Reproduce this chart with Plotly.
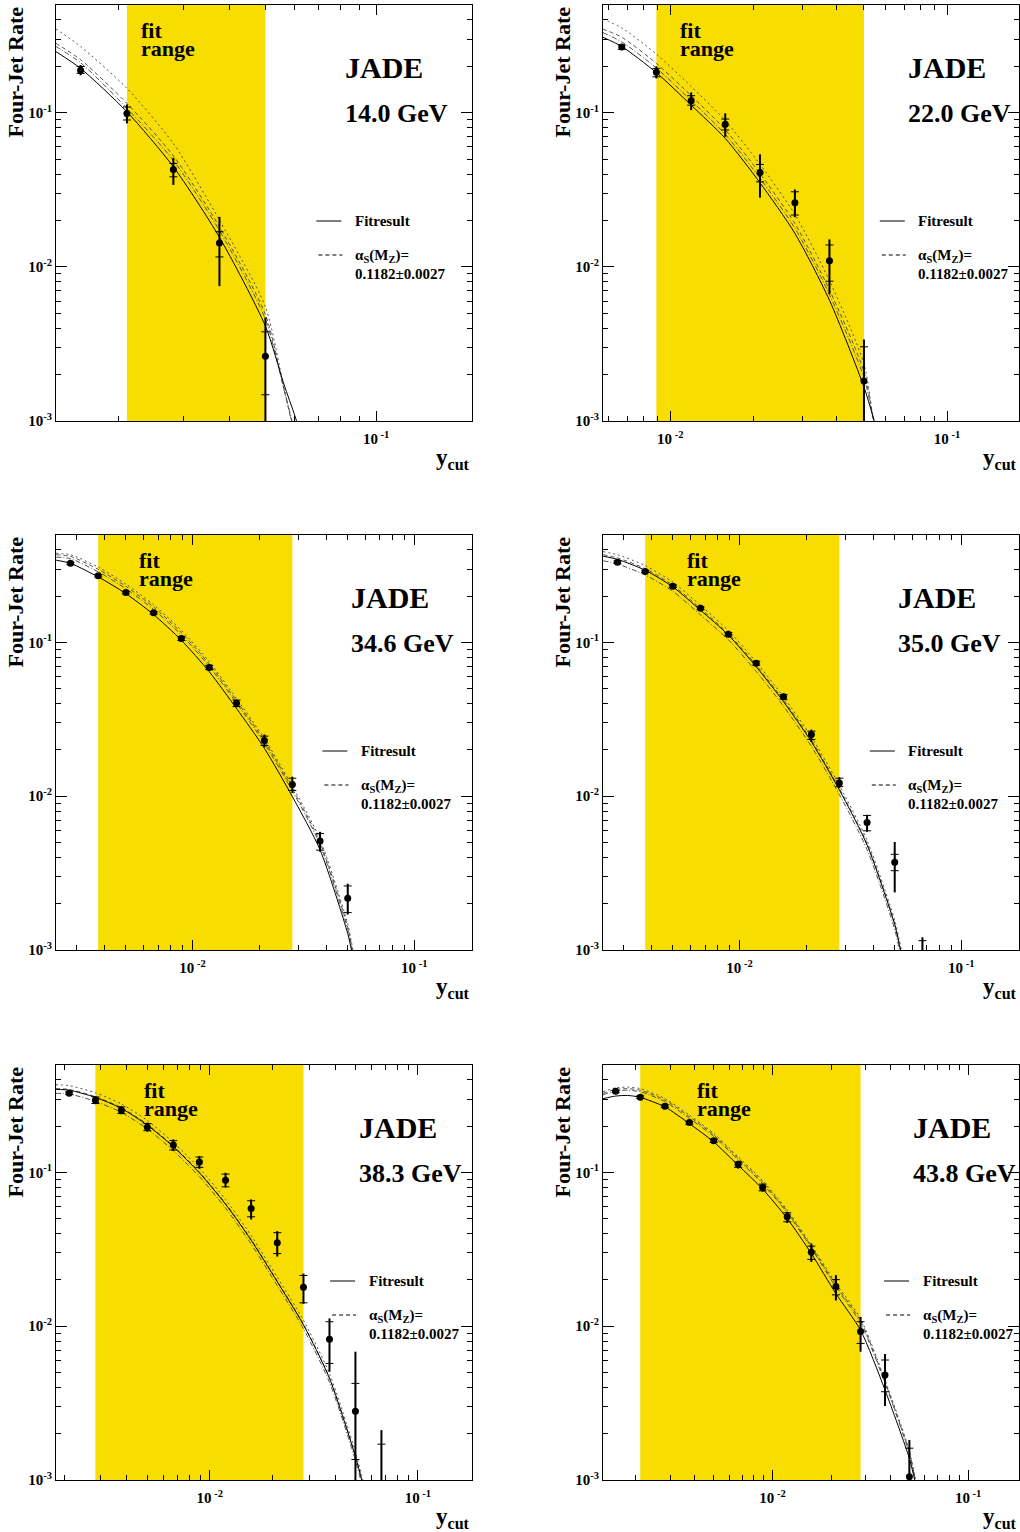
import plotly.graph_objects as go

# ------------------------------------------------------------------ data
energies = ["14.0 GeV", "22.0 GeV", "34.6 GeV", "35.0 GeV", "38.3 GeV", "43.8 GeV"]

# fit-range limits (y_cut)
fit_lo = [0.0211, 0.00891, 0.00376, 0.00376, 0.00282, 0.00211]
fit_hi = [0.0501, 0.0501, 0.0282, 0.0282, 0.0282, 0.0282]

# ---- 14.0 GeV
ycut_14 = [0.0158, 0.0211, 0.0282, 0.0376, 0.0501]
rate_14 = [0.189, 0.099, 0.0428, 0.0143, 0.00263]
stat_lo_14 = [0.180, 0.0897, 0.0384, 0.0116, 0.00148]
stat_hi_14 = [0.1995, 0.109, 0.0469, 0.0169, 0.00379]
tot_lo_14 = [0.175, 0.0853, 0.0340, 0.0075, 0.0004]
tot_hi_14 = [0.204, 0.1133, 0.0510, 0.0211, 0.0047]
xc_14 = [0.01355, 0.0158, 0.0211, 0.0282, 0.0376, 0.0501, 0.0562, 0.0603, 0.0646]
fit_14 = [0.249, 0.194, 0.1014, 0.0446, 0.01556, 0.00412, 0.00174, 0.00107, 0.00063]
as_hi_14 = [0.349, 0.269, 0.144, 0.0631, 0.0201, 0.0055, 0.00166, 0.00079, 0.0004]
as_mid_14 = [0.282, 0.221, 0.115, 0.0525, 0.0182, 0.0049, 0.00162, 0.00079, 0.0004]
as_lo_14 = [0.269, 0.211, 0.107, 0.049, 0.0172, 0.00457, 0.00162, 0.00083, 0.0004]

# ---- 22.0 GeV
ycut_22 = [0.00668, 0.00891, 0.0119, 0.0158, 0.0211, 0.0282, 0.0376, 0.0501]
rate_22 = [0.267, 0.183, 0.1197, 0.0841, 0.0410, 0.0261, 0.01094, 0.00182]
stat_lo_22 = [0.258, 0.171, 0.112, 0.0773, 0.0356, 0.0217, 0.00807, 0.0006]
stat_hi_22 = [0.275, 0.194, 0.129, 0.0910, 0.0462, 0.0307, 0.01387, 0.00303]
tot_lo_22 = [0.255, 0.167, 0.104, 0.0698, 0.0281, 0.0210, 0.00665, 0.0004]
tot_hi_22 = [0.278, 0.200, 0.1355, 0.0991, 0.0537, 0.0318, 0.01507, 0.00338]
xc_22 = [0.00571, 0.00668, 0.00891, 0.0119, 0.0158, 0.0211, 0.0282, 0.0376, 0.0501, 0.0546, 0.0575]
fit_22 = [0.309, 0.269, 0.182, 0.112, 0.0682, 0.0351, 0.0165, 0.00608, 0.00166, 0.0010, 0.00071]
as_hi_22 = [0.405, 0.355, 0.240, 0.148, 0.0891, 0.0462, 0.0219, 0.00813, 0.00234, 0.00089, 0.00045]
as_mid_22 = [0.349, 0.309, 0.209, 0.129, 0.0776, 0.0403, 0.0191, 0.00708, 0.00209, 0.00093, 0.0005]
as_lo_22 = [0.331, 0.288, 0.195, 0.120, 0.0724, 0.0376, 0.0178, 0.00661, 0.00191, 0.00095, 0.00056]

# ---- 34.6 GeV
ycut_34 = [0.00282, 0.00376, 0.00501, 0.00668, 0.00891, 0.0119, 0.0158, 0.0211, 0.0282, 0.0376, 0.0501]
rate_34 = [0.327, 0.272, 0.211, 0.156, 0.106, 0.0688, 0.0403, 0.0230, 0.0119, 0.00511, 0.00217]
stat_lo_34 = [0.321, 0.267, 0.207, 0.153, 0.103, 0.0666, 0.0383, 0.0214, 0.0109, 0.00446, 0.00175]
stat_hi_34 = [0.333, 0.277, 0.215, 0.159, 0.109, 0.0710, 0.0422, 0.0246, 0.0131, 0.00573, 0.00261]
tot_lo_34 = [0.319, 0.265, 0.205, 0.151, 0.102, 0.0660, 0.0379, 0.0208, 0.0105, 0.00436, 0.00170]
tot_hi_34 = [0.335, 0.279, 0.217, 0.161, 0.110, 0.0716, 0.0426, 0.0252, 0.0134, 0.00587, 0.00270]
xc_34 = [0.00243, 0.00282, 0.00376, 0.00501, 0.00668, 0.00891, 0.0119, 0.0158, 0.0211, 0.0282, 0.0376, 0.0501, 0.0521, 0.0550]
fit_34 = [0.343, 0.327, 0.267, 0.208, 0.152, 0.1035, 0.0646, 0.0372, 0.0205, 0.00995, 0.00448, 0.00128, 0.0010, 0.00071]
as_hi_34 = [0.380, 0.372, 0.309, 0.240, 0.176, 0.120, 0.0750, 0.0432, 0.0237, 0.01161, 0.00525, 0.00148, 0.00112, 0.00076]
as_mid_34 = [0.372, 0.363, 0.299, 0.232, 0.170, 0.116, 0.0724, 0.0417, 0.0229, 0.01122, 0.00501, 0.00141, 0.00107, 0.00072]
as_lo_34 = [0.359, 0.351, 0.288, 0.224, 0.164, 0.112, 0.0700, 0.0403, 0.0221, 0.01084, 0.00484, 0.00136, 0.00105, 0.00071]

# ---- 35.0 GeV
ycut_35 = [0.00282, 0.00376, 0.00501, 0.00668, 0.00891, 0.0119, 0.0158, 0.0211, 0.0282, 0.0376, 0.0501, 0.0668]
rate_35 = [0.333, 0.290, 0.232, 0.167, 0.113, 0.0734, 0.0443, 0.0252, 0.0122, 0.00674, 0.00372, 0.0005]
stat_lo_35 = [0.327, 0.285, 0.228, 0.164, 0.110, 0.0712, 0.0428, 0.0234, 0.01155, 0.00596, 0.00328, 0.0003]
stat_hi_35 = [0.339, 0.295, 0.236, 0.170, 0.116, 0.0756, 0.0458, 0.0265, 0.0131, 0.00750, 0.00419, 0.00115]
tot_lo_35 = [0.325, 0.283, 0.226, 0.162, 0.109, 0.0705, 0.0422, 0.0226, 0.0113, 0.00587, 0.00237, 0.0002]
tot_hi_35 = [0.341, 0.297, 0.238, 0.172, 0.117, 0.0765, 0.0465, 0.0271, 0.0133, 0.00757, 0.00504, 0.00121]
xc_35 = [0.00243, 0.00282, 0.00376, 0.00501, 0.00668, 0.00891, 0.0119, 0.0158, 0.0211, 0.0282, 0.0376, 0.0501, 0.0532, 0.0562]
fit_35 = [0.364, 0.347, 0.295, 0.230, 0.162, 0.1117, 0.0695, 0.0412, 0.0226, 0.0110, 0.00482, 0.00146, 0.0010, 0.00071]
as_hi_35 = [0.390, 0.372, 0.316, 0.247, 0.174, 0.1197, 0.0745, 0.0442, 0.0243, 0.01178, 0.00516, 0.00156, 0.00107, 0.00076]
as_mid_35 = [0.372, 0.355, 0.302, 0.236, 0.166, 0.1143, 0.0711, 0.0422, 0.0232, 0.01125, 0.00493, 0.00149, 0.00102, 0.00072]
as_lo_35 = [0.340, 0.324, 0.275, 0.215, 0.151, 0.1042, 0.0649, 0.0385, 0.0211, 0.01026, 0.0045, 0.00136, 0.00093, 0.00066]

# ---- 38.3 GeV
ycut_38 = [0.00211, 0.00282, 0.00376, 0.00501, 0.00668, 0.00891, 0.0119, 0.0158, 0.0211, 0.0282, 0.0376, 0.0501, 0.0668]
rate_38 = [0.328, 0.295, 0.254, 0.197, 0.151, 0.117, 0.0891, 0.0583, 0.0349, 0.0179, 0.00822, 0.00280, 0.0005]
stat_lo_38 = [0.322, 0.281, 0.242, 0.187, 0.140, 0.108, 0.0807, 0.0515, 0.0297, 0.0142, 0.00573, 0.00136, 0.0003]
stat_hi_38 = [0.334, 0.310, 0.267, 0.208, 0.161, 0.126, 0.0976, 0.0655, 0.0406, 0.0214, 0.0107, 0.00425, 0.00171]
tot_lo_38 = [0.319, 0.278, 0.239, 0.184, 0.138, 0.1057, 0.0799, 0.0495, 0.0284, 0.0140, 0.00506, 0.0004, 0.0002]
tot_hi_38 = [0.337, 0.313, 0.270, 0.211, 0.164, 0.1277, 0.0995, 0.0668, 0.0416, 0.0220, 0.01124, 0.00683, 0.00211]
xc_38 = [0.00182, 0.00211, 0.00282, 0.00376, 0.00501, 0.00668, 0.00891, 0.0119, 0.0158, 0.0211, 0.0282, 0.0376, 0.0501, 0.0537, 0.0569]
fit_38 = [0.347, 0.343, 0.308, 0.261, 0.203, 0.147, 0.0995, 0.0622, 0.0363, 0.01945, 0.01019, 0.00458, 0.00142, 0.0010, 0.00071]
as_hi_38 = [0.372, 0.367, 0.330, 0.279, 0.218, 0.157, 0.1067, 0.0667, 0.0389, 0.02084, 0.01091, 0.00491, 0.00152, 0.00107, 0.00076]
as_mid_38 = [0.351, 0.347, 0.311, 0.264, 0.206, 0.1486, 0.1007, 0.0630, 0.0367, 0.01968, 0.0103, 0.00463, 0.00144, 0.00101, 0.00072]
as_lo_38 = [0.327, 0.324, 0.290, 0.246, 0.192, 0.1387, 0.0940, 0.0587, 0.0343, 0.01837, 0.00962, 0.00432, 0.00134, 0.00094, 0.00067]

# ---- 43.8 GeV
ycut_43 = [0.00158, 0.00211, 0.00282, 0.00376, 0.00501, 0.00668, 0.00891, 0.0119, 0.0158, 0.0211, 0.0282, 0.0376, 0.0501]
rate_43 = [0.337, 0.308, 0.270, 0.211, 0.161, 0.113, 0.0800, 0.0515, 0.0303, 0.0181, 0.00923, 0.00482, 0.00105]
stat_lo_43 = [0.330, 0.303, 0.265, 0.206, 0.157, 0.108, 0.0760, 0.0478, 0.0272, 0.0160, 0.00773, 0.00375, 0.0004]
stat_hi_43 = [0.342, 0.315, 0.275, 0.214, 0.165, 0.117, 0.0840, 0.0547, 0.0332, 0.0201, 0.0107, 0.00603, 0.00161]
tot_lo_43 = [0.328, 0.300, 0.262, 0.204, 0.155, 0.106, 0.0749, 0.0470, 0.0262, 0.0147, 0.00683, 0.00303, 0.0003]
tot_hi_43 = [0.344, 0.318, 0.278, 0.216, 0.167, 0.119, 0.0848, 0.0555, 0.0345, 0.0215, 0.0115, 0.00659, 0.00182]
xc_43 = [0.00136, 0.00158, 0.00182, 0.00211, 0.00282, 0.00376, 0.00501, 0.00668, 0.00891, 0.0119, 0.0158, 0.0211, 0.0282, 0.0376, 0.0501, 0.0533, 0.0569]
fit_43 = [0.302, 0.314, 0.317, 0.308, 0.267, 0.208, 0.158, 0.1114, 0.078, 0.0502, 0.0297, 0.0163, 0.00942, 0.00385, 0.00138, 0.0010, 0.00063]
as_hi_43 = [0.335, 0.355, 0.359, 0.351, 0.303, 0.236, 0.1795, 0.1265, 0.0885, 0.0570, 0.0337, 0.0190, 0.01119, 0.00447, 0.00155, 0.00107, 0.00071]
as_mid_43 = [0.327, 0.347, 0.351, 0.343, 0.296, 0.231, 0.1754, 0.1236, 0.0865, 0.0557, 0.0330, 0.0184, 0.01084, 0.00437, 0.00151, 0.00106, 0.00069]
as_lo_43 = [0.320, 0.339, 0.343, 0.335, 0.289, 0.225, 0.1714, 0.1208, 0.0845, 0.0545, 0.0322, 0.0179, 0.01047, 0.00427, 0.00148, 0.00105, 0.00068]

# tick labels
y_tickvals = [0.001, 0.01, 0.1]
y_ticktext = ["<b>10<sup>-3</sup></b>", "<b>10<sup>-2</sup></b>", "<b>10<sup>-1</sup></b>"]
x_tickvals = [0.01, 0.1]
x_ticktext = ["<b>10<sup> -2</sup></b>", "<b>10<sup> -1</sup></b>"]

legend_fit = "Fitresult"
legend_as = "α<sub>S</sub>(M<sub>Z</sub>)="
legend_as_val = "0.1182±0.0027"

# ------------------------------------------------------------------ panels (built from the arrays above)
panels = [
    dict(x=ycut_14, r=rate_14, sl=stat_lo_14, sh=stat_hi_14, tl=tot_lo_14, th=tot_hi_14,
         xc=xc_14, fit=fit_14, ah=as_hi_14, am=as_mid_14, al=as_lo_14),
    dict(x=ycut_22, r=rate_22, sl=stat_lo_22, sh=stat_hi_22, tl=tot_lo_22, th=tot_hi_22,
         xc=xc_22, fit=fit_22, ah=as_hi_22, am=as_mid_22, al=as_lo_22),
    dict(x=ycut_34, r=rate_34, sl=stat_lo_34, sh=stat_hi_34, tl=tot_lo_34, th=tot_hi_34,
         xc=xc_34, fit=fit_34, ah=as_hi_34, am=as_mid_34, al=as_lo_34),
    dict(x=ycut_35, r=rate_35, sl=stat_lo_35, sh=stat_hi_35, tl=tot_lo_35, th=tot_hi_35,
         xc=xc_35, fit=fit_35, ah=as_hi_35, am=as_mid_35, al=as_lo_35),
    dict(x=ycut_38, r=rate_38, sl=stat_lo_38, sh=stat_hi_38, tl=tot_lo_38, th=tot_hi_38,
         xc=xc_38, fit=fit_38, ah=as_hi_38, am=as_mid_38, al=as_lo_38),
    dict(x=ycut_43, r=rate_43, sl=stat_lo_43, sh=stat_hi_43, tl=tot_lo_43, th=tot_hi_43,
         xc=xc_43, fit=fit_43, ah=as_hi_43, am=as_mid_43, al=as_lo_43),
]

# ------------------------------------------------------------------ layout geometry / style
W, H = 1020, 1532
H_DOM = 1524.0      # vertical scale used for domain placement
col_px = [(56, 472), (603, 1019)]
row_px = [(5, 421), (535, 950), (1065, 1480)]
x_range_log = [[-1.868, -0.74], [-2.243, -0.74], [-2.615, -0.74],
               [-2.615, -0.74], [-2.739, -0.74], [-2.866, -0.74]]
y_range_log = [-3.0, -0.301]
jade_off = [287, 303.4, 293, 293.4, 300.7, 307.7]     # px from frame left
fit_txt_off = [85.7, 78.3, 84, 85, 89, 95]

YELLOW = "rgb(248,221,0)"
FONT = "Liberation Serif"
minor_vals = [m * 10.0 ** e for e in range(-4, 0) for m in range(2, 10)]

fig = go.Figure()
layout = dict(width=W, height=H, margin=dict(l=0, r=0, t=0, b=0),
              plot_bgcolor="white", paper_bgcolor="white", showlegend=False)
annotations = []
shapes = []

for k, P in enumerate(panels):
    n = k + 1
    col, row = k % 2, k // 2
    xa = "x" if n == 1 else f"x{n}"
    ya = "y" if n == 1 else f"y{n}"
    xdom = "x domain" if n == 1 else f"x{n} domain"
    ydom = "y domain" if n == 1 else f"y{n} domain"
    x0p, x1p = col_px[col]
    y0p, y1p = row_px[row]
    pw, ph = x1p - x0p, y1p - y0p

    axis_common = dict(type="log", showline=True, linecolor="black", linewidth=1,
                       mirror="allticks", ticks="inside", tickcolor="black", tickwidth=1,
                       showgrid=False, zeroline=False,
                       tickfont=dict(family=FONT, size=15, color="black"),
                       minor=dict(ticks="inside", ticklen=5, tickcolor="black",
                                  tickmode="array", tickvals=minor_vals, showgrid=False))
    layout["xaxis" if n == 1 else f"xaxis{n}"] = dict(
        axis_common, domain=[x0p / W, x1p / W], range=x_range_log[k], anchor=ya,
        tickmode="array", tickvals=x_tickvals, ticktext=x_ticktext, ticklen=10,
        ticklabelstandoff=4)
    layout["yaxis" if n == 1 else f"yaxis{n}"] = dict(
        axis_common, domain=[max(0.0, 1 - y1p / H_DOM), 1 - y0p / H_DOM],
        range=y_range_log, anchor=xa,
        tickmode="array", tickvals=y_tickvals, ticktext=y_ticktext, ticklen=11)

    # fit range band
    shapes.append(dict(type="rect", xref=xa, yref=ydom, x0=fit_lo[k], x1=fit_hi[k],
                       y0=0, y1=1, fillcolor=YELLOW, line=dict(width=0), layer="below"))

    # alpha_s variation curves
    for key, dash in (("ah", "2px,3px"), ("am", "4px,3px"), ("al", "5px,2px,1px,2px")):
        fig.add_trace(go.Scatter(x=P["xc"], y=P[key], mode="lines", xaxis=xa, yaxis=ya,
                                 line=dict(color="#555555", width=1, dash=dash,
                                           shape="spline", smoothing=0.7),
                                 hoverinfo="skip"))
    # fit result
    fig.add_trace(go.Scatter(x=P["xc"], y=P["fit"], mode="lines", xaxis=xa, yaxis=ya,
                             line=dict(color="black", width=1, shape="spline", smoothing=0.7),
                             hoverinfo="skip"))
    # total errors (no caps)
    fig.add_trace(go.Scatter(
        x=P["x"], y=P["r"], mode="markers", xaxis=xa, yaxis=ya,
        marker=dict(size=2, color="rgba(0,0,0,0)"),
        error_y=dict(type="data", symmetric=False,
                     array=[h - r for h, r in zip(P["th"], P["r"])],
                     arrayminus=[r - l for r, l in zip(P["r"], P["tl"])],
                     width=0, thickness=2, color="black")))
    # statistical errors (with caps) + points
    fig.add_trace(go.Scatter(
        x=P["x"], y=P["r"], mode="markers", xaxis=xa, yaxis=ya,
        marker=dict(size=7, color="black", symbol="circle"),
        error_y=dict(type="data", symmetric=False,
                     array=[h - r for h, r in zip(P["sh"], P["r"])],
                     arrayminus=[r - l for r, l in zip(P["r"], P["sl"])],
                     width=4, thickness=1, color="black")))

    def A(xpx, ypx, text, size, xanchor="left", yanchor="middle", angle=0):
        annotations.append(dict(xref=xdom, yref=ydom, x=xpx / pw, y=1 - ypx / ph,
                                text=text, showarrow=False, xanchor=xanchor, yanchor=yanchor,
                                textangle=angle,
                                font=dict(family=FONT, size=size, color="black")))

    # labels inside panel
    A(fit_txt_off[k] - 3, 25, "<b>fit</b>", 22)
    A(fit_txt_off[k] - 3, 43, "<b>range</b>", 22)
    A(jade_off[k], 62.5, "<b>JADE</b>", 30)
    A(jade_off[k], 108, f"<b>{energies[k]}</b>", 26)
    lx_text = jade_off[k] + 10
    lx_line = lx_text - 36.6
    A(lx_text, 216, f"<b>{legend_fit}</b>", 15)
    A(lx_text, 251, f"<b>{legend_as}</b>", 15)
    A(lx_text, 269, f"<b>{legend_as_val}</b>", 15)
    shapes.append(dict(type="line", xref=xdom, yref=ydom,
                       x0=lx_line / pw, x1=(lx_line + 25) / pw,
                       y0=1 - 216 / ph, y1=1 - 216 / ph,
                       line=dict(color="black", width=1)))
    shapes.append(dict(type="line", xref=xdom, yref=ydom,
                       x0=(lx_line + 2) / pw, x1=(lx_line + 26) / pw,
                       y0=1 - 250 / ph, y1=1 - 250 / ph,
                       line=dict(color="black", width=1, dash="4px,3px")))
    # axis titles
    A(-41, 0, "<b>Four-Jet Rate</b>", 22, xanchor="center", yanchor="top", angle=-90)
    A(pw, ph + 38, "<b>y<sub>cut</sub></b>", 23, xanchor="right", yanchor="middle")

layout["annotations"] = annotations
layout["shapes"] = shapes
fig.update_layout(**layout)
fig.update_traces(showlegend=False)

page_fix = (
    "var s=document.createElement('style');"
    "s.innerHTML='html,body{margin:0;padding:0;overflow:hidden;height:1532px;}"
    "body>div{margin:0;padding:0;line-height:0;height:1532px;overflow:hidden;}';"
    "document.head.appendChild(s);"
)
fig.write_html("out.html", config={"displayModeBar": False}, post_script=page_fix)
